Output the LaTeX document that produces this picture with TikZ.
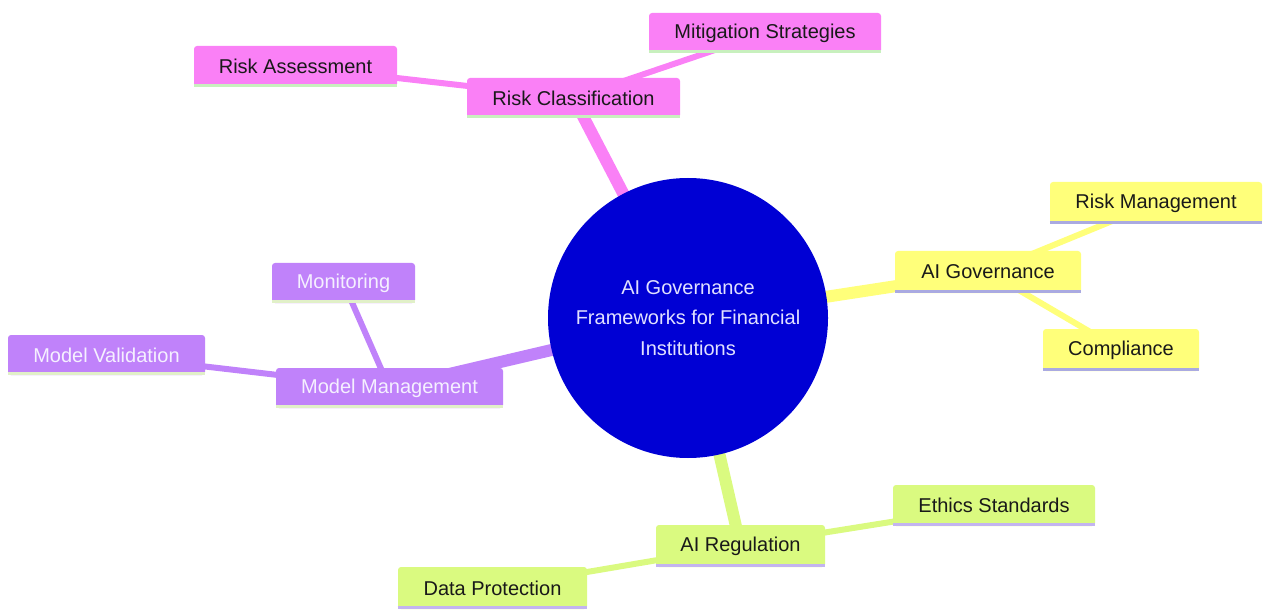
\documentclass[tikz,border=0pt]{standalone}
\usepackage{fontspec}
\setmainfont{Liberation Sans}
\usetikzlibrary{backgrounds}
\definecolor{pinkF}{RGB}{250,128,246}
\definecolor{pinkU}{RGB}{200,240,190}
\definecolor{yelF}{RGB}{255,255,122}
\definecolor{yelU}{RGB}{170,170,225}
\definecolor{purF}{RGB}{192,130,250}
\definecolor{purU}{RGB}{225,240,200}
\definecolor{purT}{RGB}{245,240,255}
\definecolor{grnF}{RGB}{218,250,128}
\definecolor{grnU}{RGB}{195,180,240}
\definecolor{rootF}{RGB}{0,0,212}
\definecolor{rootT}{RGB}{225,225,255}
\definecolor{txt}{RGB}{25,25,25}
\tikzset{
  box/.style={rectangle, rounded corners=3pt, inner sep=0pt, font=\fontsize{20}{24}\selectfont, text=txt},
  pinkbox/.style={box, fill=pinkF},
  yelbox/.style={box, fill=yelF},
  purbox/.style={box, fill=purF, text=purT},
  grnbox/.style={box, fill=grnF},
  ul/.style={line width=3pt},
  mainedge/.style={line width=12pt},
  subedge/.style={line width=6pt},
}
\begin{document}
\begin{tikzpicture}[x=1pt,y=-1pt]
\useasboundingbox (0,0) rectangle (1263,612);
% root
\node[circle, fill=rootF, minimum size=280pt, inner sep=0pt, text=rootT, align=center,
      font=\fontsize{20}{30.5}\selectfont] (root) at (688,318)
  {AI Governance\\Frameworks for Financial\\Institutions};
% pink branch
\node[pinkbox, minimum width=213pt, minimum height=40pt] (rc) at (573.5,98) {Risk Classification};
\node[pinkbox, minimum width=203pt, minimum height=41pt] (ra) at (295.5,66.5) {Risk Assessment};
\node[pinkbox, minimum width=232pt, minimum height=40pt] (ms) at (765,33) {Mitigation Strategies};
% yellow branch
\node[yelbox, minimum width=186pt, minimum height=42pt] (aig) at (988,272) {AI Governance};
\node[yelbox, minimum width=212pt, minimum height=42pt] (rm) at (1156,203) {Risk Management};
\node[yelbox, minimum width=156pt, minimum height=42pt] (co) at (1121,350) {Compliance};
% purple branch
\node[purbox, minimum width=227pt, minimum height=40pt] (mm) at (389.5,388) {Model Management};
\node[purbox, minimum width=143pt, minimum height=40pt] (mo) at (343.5,283) {Monitoring};
\node[purbox, minimum width=197pt, minimum height=40pt] (mv) at (106.5,355) {Model Validation};
% green branch
\node[grnbox, minimum width=169pt, minimum height=42pt] (ar) at (740.5,546) {AI Regulation};
\node[grnbox, minimum width=202pt, minimum height=41pt] (es) at (994,505.5) {Ethics Standards};
\node[grnbox, minimum width=189pt, minimum height=42pt] (dp) at (492.5,588) {Data Protection};
% underlines
\foreach \n/\c in {rc/pinkU, ra/pinkU, ms/pinkU, aig/yelU, rm/yelU, co/yelU, mm/purU, mo/purU, mv/purU, ar/grnU, es/grnU, dp/grnU}{
  \draw[ul, draw=\c] ([yshift=1.5pt]\n.south west) -- ([yshift=1.5pt]\n.south east);
}
\begin{scope}[on background layer]
\draw[mainedge, pinkF] (root.center) -- (rc.center);
\draw[mainedge, yelF] (root.center) -- (aig.center);
\draw[mainedge, purF] (root.center) -- (mm.center);
\draw[mainedge, grnF] (root.center) -- (ar.center);
\draw[subedge, pinkF] (rc.center) -- (ra.center);
\draw[subedge, pinkF] (rc.center) -- (ms.center);
\draw[subedge, yelF] (aig.center) -- (rm.center);
\draw[subedge, yelF] (aig.center) -- (co.center);
\draw[subedge, purF] (mm.center) -- (mo.center);
\draw[subedge, purF] (mm.center) -- (mv.center);
\draw[subedge, grnF] (ar.center) -- (es.center);
\draw[subedge, grnF] (ar.center) -- (dp.center);
\end{scope}
\end{tikzpicture}
\end{document}
